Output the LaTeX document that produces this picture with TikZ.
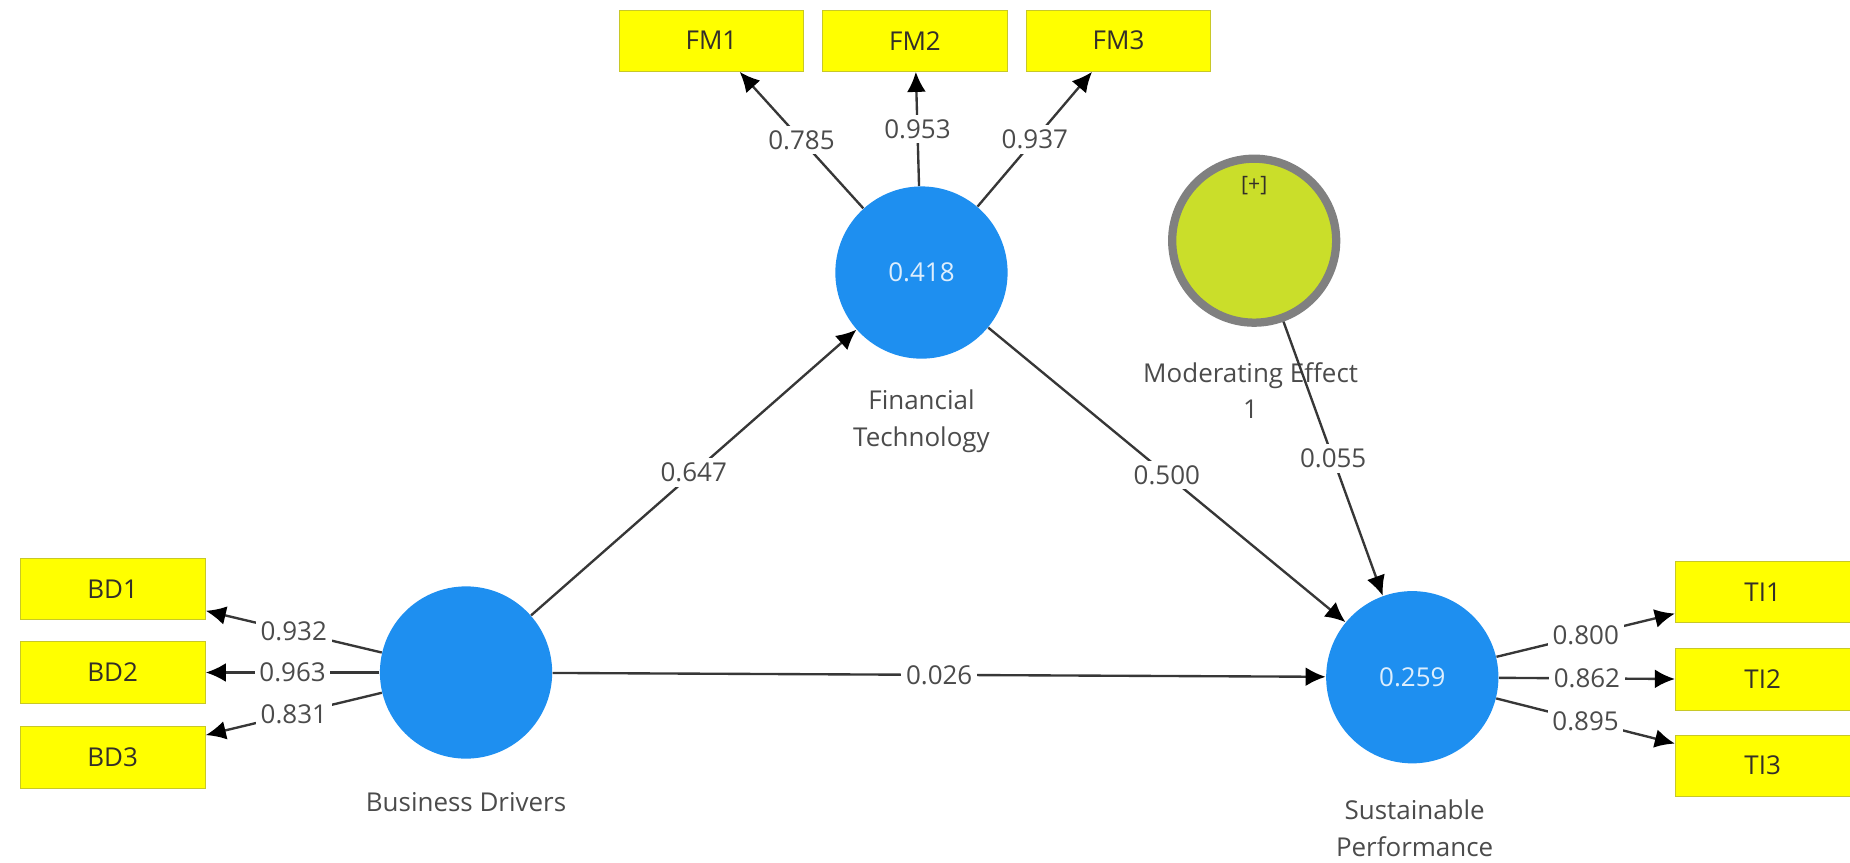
\documentclass[tikz,border=0pt]{standalone}
\usepackage{fontspec}
\setmainfont{Open Sans}
\usetikzlibrary{arrows.meta,positioning}
\definecolor{lvblue}{RGB}{30,143,240}
\definecolor{mvyellow}{RGB}{255,255,0}
\definecolor{mvedge}{RGB}{200,200,40}
\definecolor{modgreen}{RGB}{202,222,42}
\definecolor{modring}{RGB}{128,128,128}
\definecolor{pathgray}{RGB}{55,55,55}
\definecolor{txtgray}{RGB}{75,75,75}

\begin{document}
\begin{tikzpicture}[x=0.5pt,y=-0.5pt,
    lv/.style={circle,fill=lvblue,minimum size=73pt,inner sep=0pt,
        text=white!85!lvblue,font=\fontsize{11}{13}\selectfont},
    mod/.style={circle,fill=modgreen,draw=modring,line width=3.5pt,
        minimum size=69.5pt,inner sep=0pt},
    tag/.style={text=black!85!olive,font=\fontsize{9}{11}\selectfont},
    mv/.style={rectangle,fill=mvyellow,draw=mvedge,line width=0.4pt,
        minimum width=#1,minimum height=26pt,inner sep=0pt,
        text=black!85!olive,font=\fontsize{11}{13}\selectfont},
    mv/.default=78pt,
    lvname/.style={align=center,text=txtgray,font=\fontsize{11}{15.5}\selectfont},
    link/.style={draw=pathgray,line width=1pt,-{Latex[length=8.5pt,width=8pt,color=black]}},
    val/.style={fill=white,inner sep=2pt,text=txtgray,font=\fontsize{11}{13}\selectfont}
]
\useasboundingbox (0,0) rectangle (1568,731);

\node[lv] (FT) at (781,231) {0.418};
\node[lv] (BD) at (395,570) {};
\node[lv] (SP) at (1197,574) {0.259};
\node[mod] (ME) at (1063,204) {};
\node[tag] (MEtag) at (1063,157) {[+]};

\node[lvname] (FTname) at (781,357) {Financial\\Technology};
\node[lvname] (BDname) at (395,680) {Business Drivers};
\node[lvname] (SPname) at (1199,702) {Sustainable\\Performance};
\node[lvname] (MEname) at (1060,331) {Moderating Effect\\1};

\foreach \i/\x in {1/603,2/775.5,3/948}
    \node[mv] (FM\i) at (\x,34.5) {FM\i};
\foreach \i/\y in {1/499,2/570,3/642}
    \node[mv=78.5pt] (BD\i) at (95.5,\y) {BD\i};
\foreach \i/\y in {1/502,2/576,3/649}
    \node[mv=74pt] (TI\i) at (1494,\y) {TI\i};

\foreach \i/\v in {1/0.785,2/0.953,3/0.937}
    \draw[link] (FT) -- node[val] (lFM\i) {\v} (FM\i);
\foreach \i/\v in {1/0.932,2/0.963,3/0.831}
    \draw[link] (BD) -- node[val] (lBD\i) {\v} (BD\i);
\foreach \i/\v in {1/0.800,2/0.862,3/0.895}
    \draw[link] (SP) -- node[val] (lTI\i) {\v} (TI\i);

\draw[link] (BD) -- node[val] (lBDFT) {0.647} (FT);
\draw[link] (FT) -- node[val] (lFTSP) {0.500} (SP);
\draw[link] (ME) -- node[val] (lMESP) {0.055} (SP);
\draw[link] (BD) -- node[val] (lBDSP) {0.026} (SP);
\end{tikzpicture}
\end{document}
